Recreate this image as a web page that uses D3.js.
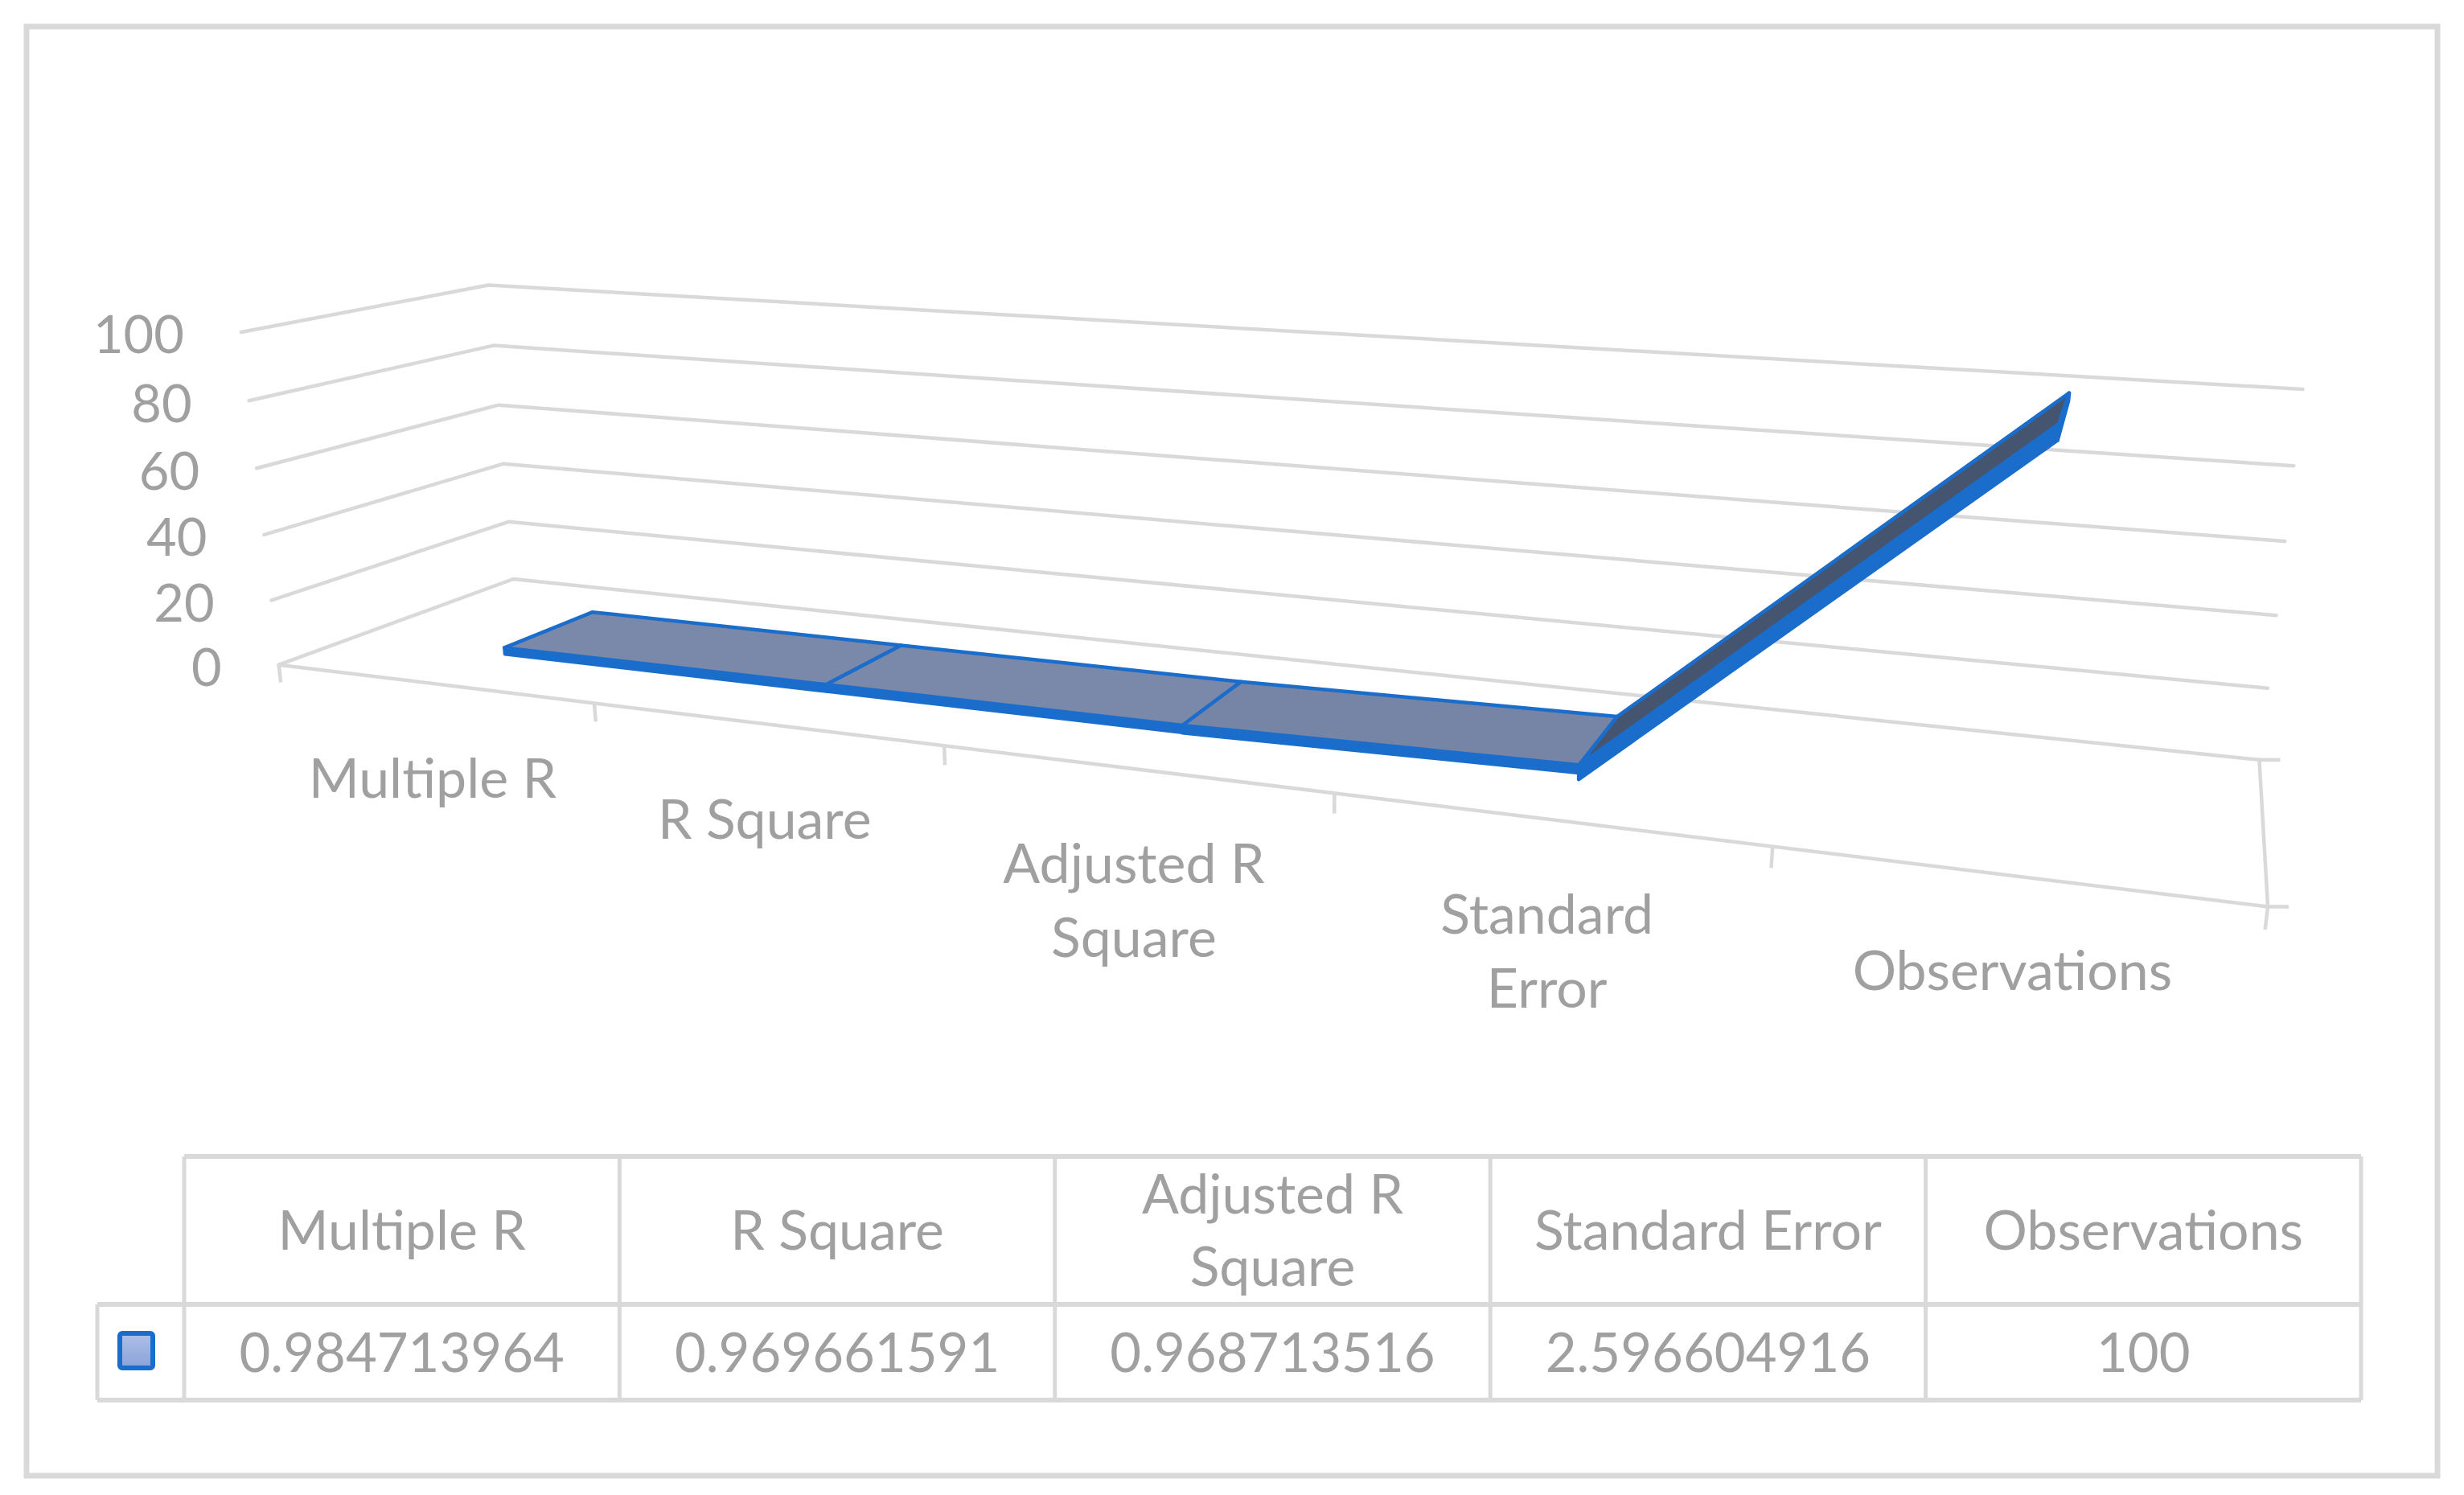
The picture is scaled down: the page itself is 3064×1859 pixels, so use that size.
<!DOCTYPE html>
<html>
<head>
<meta charset="utf-8">
<script src="https://cdn.jsdelivr.net/npm/d3@7"></script>
<style>
  body { margin: 0; background: #fff; }
</style>
</head>
<body>
<div id="chart"></div>
<script>
// data ---------------------------------------------------------------
const categories = ['Multiple R', 'R Square', 'Adjusted R Square', 'Standard Error', 'Observations'];
const values = [0.984713964, 0.969661591, 0.968713516, 2.596604916, 100];
const valueLabels = ['0.984713964', '0.969661591', '0.968713516', '2.596604916', '100'];
const yTicks = [0, 20, 40, 60, 80, 100];

// layout -------------------------------------------------------------
const width = 3064, height = 1859;
const gridColor = '#d9d9d9', textColor = '#a0a0a0';
const lineBlue = '#1b6dcc', topFill = '#7a88aa', sideFill = '#44546e';
const numSize = 65, labelSize = 68;

// perspective camera of the 3-D plot box
// x: category units (0..n), y: value fraction (0..1), z: depth (0 front, 1 back)
const cam = {
  u0: 346.7, v0: 826.7,
  ux: 355.95, vx: 4.70, wx: -0.04919,
  uy: -57.8, vy: -429.0, wy: -0.037,
  uz: 379.7, vz: -7.34, wz: 0.138
};

const n = categories.length;
const xScale = d3.scaleBand().domain(categories).range([0, n]);
const yScale = d3.scaleLinear().domain([0, 100]).range([0, 1]);
const zFront = 0.3, zBack = 0.7, halfThick = 1;

const project = (x, v, z) => {
  const y = yScale(v);
  const d = 1 + cam.wx * x + cam.wy * y + cam.wz * z;
  return [(cam.ux * x + cam.uy * y + cam.uz * z + cam.u0) / d,
          (cam.vx * x + cam.vy * y + cam.vz * z + cam.v0) / d];
};
const line = d3.line();
const poly = pts => line(pts) + 'Z';
const cx = c => xScale(c) + xScale.bandwidth() / 2;

const svg = d3.select('#chart').append('svg')
  .attr('width', width)
  .attr('height', height)
  .style('font-family', 'Lato, "Open Sans", sans-serif');

// outer frame
svg.append('rect')
  .attr('x', 33).attr('y', 33)
  .attr('width', 2998).attr('height', 1802)
  .attr('fill', '#fff')
  .attr('stroke', gridColor)
  .attr('stroke-width', 7);

// word wrap helper
const measure = svg.append('text').attr('visibility', 'hidden');
const wrap = (str, maxW, size) => {
  measure.attr('font-size', size);
  const words = str.split(' ');
  const lines = [];
  let cur = '';
  words.forEach(w => {
    const test = cur ? cur + ' ' + w : w;
    measure.text(test);
    if (cur && measure.node().getComputedTextLength() > maxW) {
      lines.push(cur);
      cur = w;
    } else {
      cur = test;
    }
  });
  lines.push(cur);
  return lines;
};

// gridlines (side wall + back wall) ---------------------------------
const grid = svg.append('g')
  .attr('fill', 'none')
  .attr('stroke', gridColor)
  .attr('stroke-width', 4.5)
  .attr('stroke-linecap', 'round')
  .attr('stroke-linejoin', 'round');
grid.selectAll('path.grid')
  .data(yTicks)
  .enter()
  .append('path')
  .attr('class', 'grid')
  .attr('d', t => line([project(0, t, 0), project(0, t, 1), project(n, t, 1)]));

// floor edges and ticks
grid.append('path').attr('d', line([project(0, 0, 0), project(n, 0, 0)]));
grid.append('path').attr('d', line([project(n, 0, 0), project(n, 0, 1)]));
[0, 1].forEach(z => {
  const p = project(n, 0, z);
  grid.append('path').attr('stroke-linecap', 'butt').attr('d', line([p, [p[0] + 26, p[1]]]));
});
grid.selectAll('path.tick')
  .data(d3.range(n + 1))
  .enter()
  .append('path')
  .attr('class', 'tick')
  .attr('stroke-linecap', 'butt')
  .attr('d', k => line([project(k, 0, 0), project(k, -5.5, 0)]));

// value axis labels
svg.append('g')
  .selectAll('text')
  .data(yTicks)
  .enter()
  .append('text')
  .attr('x', t => project(0, t, 0)[0] - 71)
  .attr('y', t => project(0, t, 0)[1] + 3)
  .attr('dy', '0.36em')
  .attr('text-anchor', 'end')
  .attr('font-size', numSize)
  .attr('fill', textColor)
  .text(t => t);

// category labels
const catG = svg.append('g');
categories.forEach(c => {
  const p = project(cx(c), 0, 0);
  const lines = wrap(c, 400, labelSize);
  const t = catG.append('text')
    .attr('text-anchor', 'middle')
    .attr('font-size', labelSize)
    .attr('fill', textColor);
  lines.forEach((l, i) => {
    t.append('tspan')
      .attr('x', p[0])
      .attr('y', p[1] + 118 + i * 92)
      .attr('dy', '0.36em')
      .text(l);
  });
});

// 3-D ribbon ---------------------------------------------------------
const ribbon = svg.append('g')
  .attr('stroke', lineBlue)
  .attr('stroke-width', 4.5)
  .attr('stroke-linejoin', 'round');
let lastThick = 2 * halfThick;
for (let i = 0; i < n - 1; i++) {
  const x0 = cx(categories[i]), x1 = cx(categories[i + 1]);
  const v0 = values[i], v1 = values[i + 1];
  // steep segments are shaded darker and show a deeper front face
  const steep = Math.sin(Math.atan(Math.abs(v1 - v0) / 20));
  const thick = 2 * halfThick * (1 + steep);
  lastThick = thick;
  // front face
  ribbon.append('path')
    .attr('fill', lineBlue)
    .attr('d', poly([project(x0, v0 + halfThick, zFront), project(x1, v1 + halfThick, zFront),
                     project(x1, v1 + halfThick - thick, zFront), project(x0, v0 + halfThick - thick, zFront)]));
  // top face
  ribbon.append('path')
    .attr('fill', d3.interpolateRgb(topFill, sideFill)(steep))
    .attr('d', poly([project(x0, v0 + halfThick, zFront), project(x1, v1 + halfThick, zFront),
                     project(x1, v1 + halfThick, zBack), project(x0, v0 + halfThick, zBack)]));
}
// end cap
const xe = cx(categories[n - 1]), ve = values[n - 1];
ribbon.append('path')
  .attr('fill', lineBlue)
  .attr('d', poly([project(xe, ve + halfThick, zFront), project(xe, ve + halfThick, zBack),
                   project(xe, ve + halfThick - 2 * halfThick, zBack),
                   project(xe, ve + halfThick - lastThick, zFront)]));

// data table ---------------------------------------------------------
const tLeft = 229, tRight = 2936, keyLeft = 121;
const rowTop = 1438, rowMid = 1622, rowBottom = 1741;
const colW = (tRight - tLeft) / n;
const table = svg.append('g')
  .attr('stroke', gridColor)
  .attr('fill', 'none');
table.append('path').attr('stroke-width', 6).attr('d', line([[tLeft, rowTop], [tRight, rowTop]]));
table.append('path').attr('stroke-width', 6).attr('d', line([[keyLeft, rowMid], [tRight, rowMid]]));
table.append('path').attr('stroke-width', 6).attr('d', line([[keyLeft, rowBottom], [tRight, rowBottom]]));
table.append('path').attr('stroke-width', 5).attr('d', line([[keyLeft, rowMid], [keyLeft, rowBottom]]));
d3.range(n + 1).forEach(k => {
  table.append('path').attr('stroke-width', 5)
    .attr('d', line([[tLeft + k * colW, rowTop], [tLeft + k * colW, rowBottom]]));
});

const headG = svg.append('g')
  .attr('fill', textColor)
  .attr('text-anchor', 'middle');
categories.forEach((c, i) => {
  const lines = wrap(c, colW - 50, labelSize);
  const mid = (rowTop + rowMid) / 2;
  const t = headG.append('text').attr('font-size', labelSize);
  lines.forEach((l, j) => {
    t.append('tspan')
      .attr('x', tLeft + (i + 0.5) * colW)
      .attr('y', mid + (j - (lines.length - 1) / 2) * 90)
      .attr('dy', '0.36em')
      .text(l);
  });
  headG.append('text')
    .attr('font-size', 67)
    .attr('x', tLeft + (i + 0.5) * colW)
    .attr('y', (rowMid + rowBottom) / 2)
    .attr('dy', '0.36em')
    .text(valueLabels[i]);
});

// legend key
const grad = svg.append('defs').append('linearGradient')
  .attr('id', 'keyGrad').attr('x1', 0).attr('y1', 0).attr('x2', 0).attr('y2', 1);
grad.append('stop').attr('offset', '0%').attr('stop-color', '#adc0e8');
grad.append('stop').attr('offset', '100%').attr('stop-color', '#8aa2d8');
svg.append('rect')
  .attr('x', 149).attr('y', 1658)
  .attr('width', 41).attr('height', 43)
  .attr('rx', 3)
  .attr('fill', 'url(#keyGrad)')
  .attr('stroke', lineBlue)
  .attr('stroke-width', 6);

measure.remove();
</script>
</body>
</html>
